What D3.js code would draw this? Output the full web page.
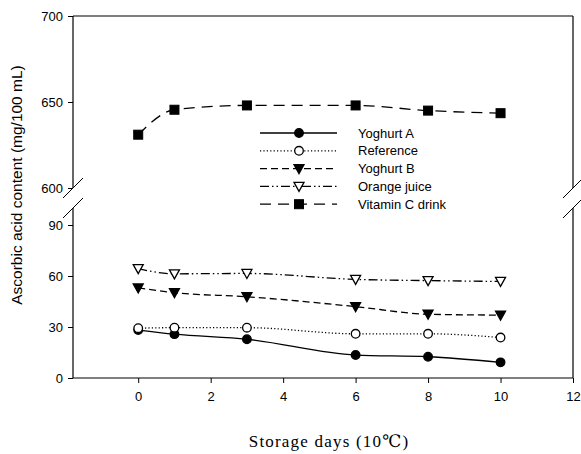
<!DOCTYPE html>
<html><head><meta charset="utf-8">
<script src="https://cdn.jsdelivr.net/npm/d3@7"></script>
<style>body{margin:0;background:#fff}svg{display:block}</style>
</head><body>
<svg id="c" width="581" height="454"></svg>
<script>
const days = [0, 1, 3, 6, 8, 10];
const yoghurtA = [28.2, 25.8, 22.8, 13.5, 12.5, 9.2];
const reference = [29.3, 29.6, 29.6, 26.0, 26.0, 23.8];
const yoghurtB = [53.0, 50.2, 47.8, 42.0, 37.5, 37.0];
const orangeJuice = [64.3, 61.3, 61.5, 58.0, 57.3, 56.8];
const vitaminC = [631, 645.5, 648, 648, 645, 643.5];
const seriesNames = ["Yoghurt A", "Reference", "Yoghurt B", "Orange juice", "Vitamin C drink"];
const xTicks = [0, 2, 4, 6, 8, 10, 12];
const yLowTicks = [0, 30, 60, 90];
const yHighTicks = [600, 650, 700];
const xLabel = "Storage days (10℃)";
const yLabel = "Ascorbic acid content (mg/100 mL)";

const svg = d3.select("#c");
const L = 73, R = 573, T = 16, B = 378, upBot = 188, loTop = 208;
const x = d3.scaleLinear().domain([-1.8, 12]).range([L, R]);
const yUp = d3.scaleLinear().domain([600, 700]).range([upBot, T]);
const yLo = d3.scaleLinear().domain([0, 100]).range([B, loTop]);
const font = "'Liberation Sans', Arial, sans-serif";

const styles = {
  "Yoghurt A": {dash: null, marker: "circle", fill: "#000"},
  "Reference": {dash: "1.2,2.2", marker: "circle", fill: "#fff"},
  "Yoghurt B": {dash: "7,4", marker: "tri", fill: "#000"},
  "Orange juice": {dash: "9,3,1.5,3,1.5,3", marker: "tri", fill: "#fff"},
  "Vitamin C drink": {dash: "11,7", marker: "square", fill: "#000"}
};
const dataMap = {
  "Yoghurt A": yoghurtA, "Reference": reference, "Yoghurt B": yoghurtB,
  "Orange juice": orangeJuice, "Vitamin C drink": vitaminC
};

// frame lines
const g = svg.append("g").attr("stroke", "#000").attr("fill", "none");
g.append("line").attr("x1", L).attr("x2", R).attr("y1", T).attr("y2", T).attr("stroke-width", 1.2);
g.append("line").attr("x1", L).attr("x2", R).attr("y1", B).attr("y2", B).attr("stroke-width", 1.2);
[L, R].forEach(xx => {
  g.append("line").attr("x1", xx).attr("x2", xx).attr("y1", T).attr("y2", upBot).attr("stroke-width", 1.2);
  g.append("line").attr("x1", xx).attr("x2", xx).attr("y1", loTop).attr("y2", B).attr("stroke-width", 1.2);
  [upBot, loTop].forEach(yy => {
    g.append("line").attr("x1", xx - 10).attr("y1", yy + 10).attr("x2", xx + 10).attr("y2", yy - 10).attr("stroke-width", 1);
  });
});

// axes
const xAxis = d3.axisBottom(x).tickValues(xTicks).tickSize(5).tickPadding(9);
const ax = svg.append("g").attr("transform", `translate(0,${B})`).call(xAxis);
ax.select(".domain").remove();
const ayU = svg.append("g").attr("transform", `translate(${L},0)`).call(d3.axisLeft(yUp).tickValues(yHighTicks).tickSize(5).tickPadding(5));
ayU.select(".domain").remove();
const ayL = svg.append("g").attr("transform", `translate(${L},0)`).call(d3.axisLeft(yLo).tickValues(yLowTicks).tickSize(5).tickPadding(5));
ayL.select(".domain").remove();
svg.selectAll(".tick text").attr("font-family", font).attr("font-size", 13).attr("fill", "#000");
svg.selectAll(".tick line").attr("stroke", "#000");

// axis titles
svg.append("text").attr("x", 329).attr("y", 447).attr("text-anchor", "middle")
  .attr("font-family", "'Liberation Serif', 'DejaVu Serif', serif").attr("font-size", 17)
  .attr("letter-spacing", 1.2).text(xLabel);
svg.append("text").attr("transform", "translate(22,185) rotate(-90)").attr("text-anchor", "middle")
  .attr("font-family", font).attr("font-size", 15.5).text(yLabel);

function marker(sel, type, fill) {
  if (type === "circle") {
    sel.append("circle").attr("r", 4.3).attr("fill", fill).attr("stroke", "#000").attr("stroke-width", 1.3);
  } else if (type === "tri") {
    sel.append("path").attr("d", "M-5,-4L5,-4L0,5Z").attr("fill", fill).attr("stroke", "#000").attr("stroke-width", 1.3);
  } else {
    sel.append("rect").attr("x", -4.5).attr("y", -4.5).attr("width", 9).attr("height", 9).attr("fill", fill).attr("stroke", "#000");
  }
}

seriesNames.forEach(name => {
  const vals = dataMap[name];
  const yS = name === "Vitamin C drink" ? yUp : yLo;
  const st = styles[name];
  const pts = days.map((d, i) => [x(d), yS(vals[i])]);
  svg.append("path").attr("d", d3.line().curve(d3.curveMonotoneX)(pts))
    .attr("fill", "none").attr("stroke", "#000").attr("stroke-width", 1.3)
    .attr("stroke-dasharray", st.dash);
  pts.forEach(p => {
    marker(svg.append("g").attr("transform", `translate(${p[0]},${p[1]})`), st.marker, st.fill);
  });
});

// legend
const lg = svg.append("g");
seriesNames.forEach((name, i) => {
  const yy = 133 + i * 17.8;
  const st = styles[name];
  lg.append("line").attr("x1", 260).attr("x2", 337).attr("y1", yy).attr("y2", yy)
    .attr("stroke", "#000").attr("stroke-width", 1.3).attr("stroke-dasharray", st.dash);
  marker(lg.append("g").attr("transform", `translate(299,${yy})`), st.marker, st.fill);
  lg.append("text").attr("x", 358).attr("y", yy + 4.5).attr("font-family", font).attr("font-size", 13).text(name);
});
</script>
</body></html>
